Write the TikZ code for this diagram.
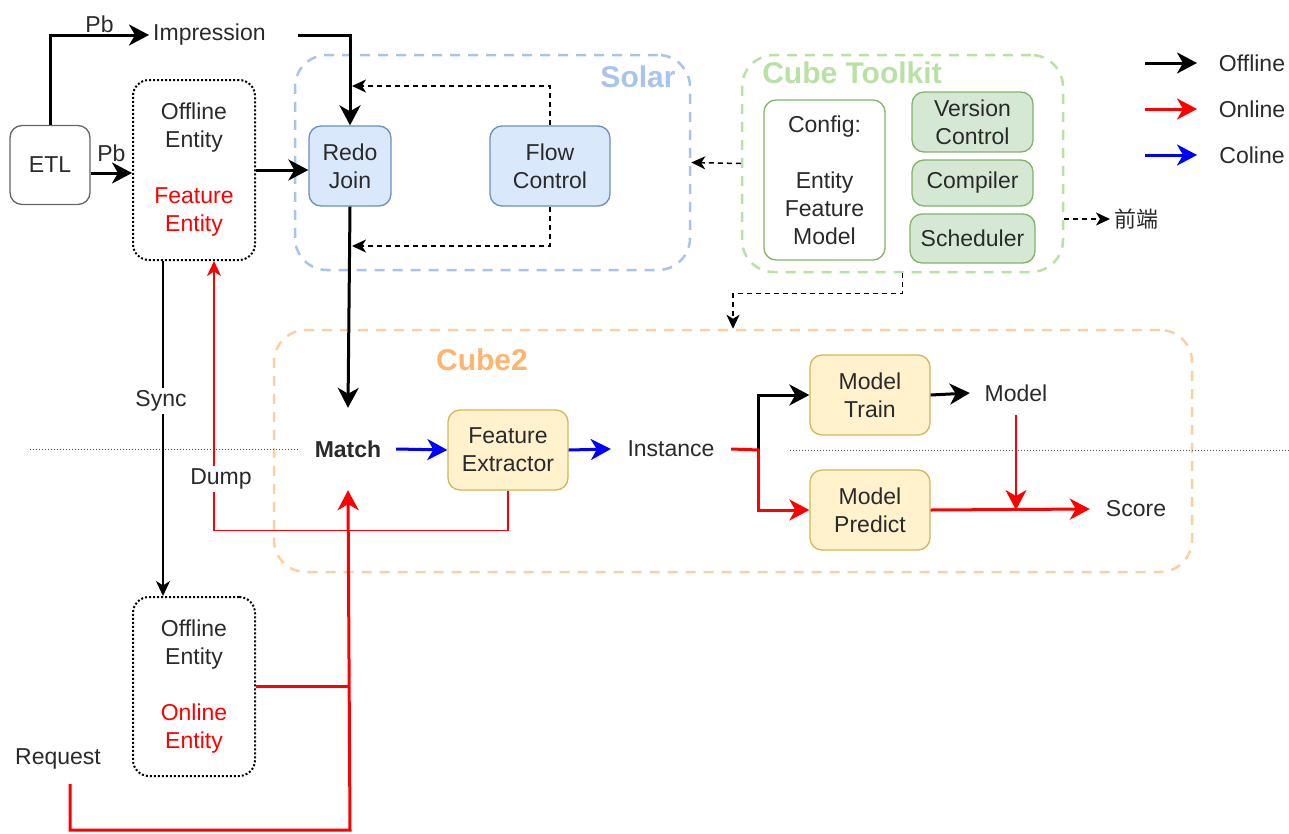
\documentclass[tikz,border=0pt]{standalone}
\usepackage{fontspec}
\setmainfont{Liberation Sans}
\newfontfamily\cjkfont{Noto Sans CJK SC}
\usetikzlibrary{arrows.meta,calc}

\definecolor{txt}{HTML}{2A2A2A}
\definecolor{bfill}{HTML}{DAE8FC}
\definecolor{bline}{HTML}{6C8EBF}
\definecolor{gfill}{HTML}{D5E8D4}
\definecolor{gline}{HTML}{82B366}
\definecolor{yfill}{HTML}{FFF2CC}
\definecolor{yline}{HTML}{D6B656}
\definecolor{solarc}{HTML}{A9C4EB}
\definecolor{toolc}{HTML}{B9E0A5}
\definecolor{cubec}{HTML}{FFCE9F}
\definecolor{cubet}{HTML}{FFB570}
\definecolor{onred}{HTML}{FF0000}
\definecolor{coblue}{HTML}{0000FF}
\definecolor{greyline}{HTML}{666666}

\begin{document}
\begin{tikzpicture}[x=1pt,y=-1pt,
  font=\fontsize{23}{28}\selectfont, text=txt,
  box/.style={rounded corners=12pt, align=center, inner sep=0pt, line width=1.3pt},
  bluebox/.style={box, fill=bfill, draw=bline, minimum height=80},
  greenbox/.style={box, fill=gfill, draw=gline},
  yellowbox/.style={box, fill=yfill, draw=yline, minimum width=120, minimum height=80},
  dotbox/.style={box, draw=black, line width=2pt, dash pattern=on 2pt off 2pt,
    rounded corners=16pt, minimum width=122, minimum height=180},
  group/.style={rounded corners=32pt, line width=2.5pt, dash pattern=on 10pt off 8pt},
  grouptitle/.style={font=\fontsize{30}{34}\selectfont\bfseries},
  lbl/.style={inner sep=2pt, align=center},
  bigtip/.style={-{Stealth[length=20pt,width=21pt,inset=6pt]}},
  smalltip/.style={-{Stealth[length=15pt,width=14pt,inset=4.5pt]}},
  offline/.style={draw=black, line width=3pt, bigtip},
  online/.style={draw=onred, line width=3pt, bigtip},
  coline/.style={draw=coblue, line width=3pt, bigtip},
  ctrl/.style={draw=black, line width=1.5pt, dash pattern=on 5pt off 4pt,
    -{Stealth[length=14pt,width=13pt,inset=4pt]}},
]
\useasboundingbox (0,0) rectangle (1289,833);

% ---------- group frames ----------
\node[group, draw=solarc, minimum width=395, minimum height=215] (solar) at (492.5,162.5) {};
\node[grouptitle, text=solarc] (solart) at (638,77) {Solar};
\node[group, draw=toolc, minimum width=321, minimum height=217] (ctk) at (902.5,163.5) {};
\node[grouptitle, text=toolc] (ctkt) at (852,73) {Cube Toolkit};
\node[group, draw=cubec, minimum width=918, minimum height=242] (cube2) at (733,451) {};
\node[grouptitle, text=cubet] (cube2t) at (482,360) {Cube2};

% ---------- offline / online separator ----------
\coordinate (sepL) at (30,449);
\coordinate (sepR1) at (790,450);
\coordinate (sepR2) at (1289,450);

% ---------- nodes ----------
\node[box, draw=greyline, minimum width=80, minimum height=79] (etl) at (50,165) {ETL};
\node[lbl, anchor=west, inner sep=4pt] (imp) at (149,35) {Impression};
\node[dotbox] (oe1) at (194,170)
  {Offline\\Entity\\[28pt]\textcolor{onred}{Feature}\\\textcolor{onred}{Entity}};
\node[dotbox, minimum height=179] (oe2) at (194,686.5)
  {Offline\\Entity\\[28pt]\textcolor{onred}{Online}\\\textcolor{onred}{Entity}};

\node[bluebox, minimum width=82] (rj) at (350,166) {Redo\\Join};
\node[bluebox, minimum width=120] (fc) at (550,166) {Flow\\Control};

\node[box, fill=white, draw=gline, minimum width=121, minimum height=160] (cfg) at (824.5,180)
  {Config:\\[28pt]Entity\\Feature\\Model};
\node[greenbox, minimum width=121, minimum height=60] (vc) at (972.5,122) {Version\\Control};
\node[greenbox, minimum width=121, minimum height=46] (comp) at (972.5,183) {Compiler};
\node[greenbox, minimum width=125, minimum height=49] (sched) at (972.5,238.5) {Scheduler};
\node[lbl, anchor=west, inner sep=4pt, font=\fontsize{22}{26}\cjkfont] (fe2) at (1110,219) {前端};

\node[lbl, font=\fontsize{23}{28}\selectfont\bfseries, minimum width=96, minimum height=82] (match) at (348,449) {Match};
\node[yellowbox] (fe) at (508,450) {Feature\\Extractor};
\node[lbl, minimum width=120] (inst) at (671,449) {Instance};
\node[yellowbox] (mt) at (870,395) {Model\\Train};
\node[yellowbox] (mp) at (870,510) {Model\\Predict};
\node[lbl, minimum width=92, minimum height=44] (model) at (1016,393) {Model};
\node[lbl, minimum width=92] (score) at (1136,509) {Score};
\node[lbl, minimum height=50] (req) at (58,759) {Request};

% legend
\coordinate (lgA1) at (1145,63);  \coordinate (lgA2) at (1197,63);
\coordinate (lgB1) at (1145,109); \coordinate (lgB2) at (1197,109);
\coordinate (lgC1) at (1145,155); \coordinate (lgC2) at (1197,155);
\node[lbl] (lgA) at (1252,63) {Offline};
\node[lbl] (lgB) at (1252,109) {Online};
\node[lbl] (lgC) at (1252,155) {Coline};
\draw[offline] (lgA1) -- (lgA2);
\draw[online] (lgB1) -- (lgB2);
\draw[coline] (lgC1) -- (lgC2);

% ---------- connectors ----------
\draw[dotted, line width=1pt, draw=black!70] (sepL) -- (match.west);
\draw[dotted, line width=1pt, draw=black!70] (sepR1) -- (sepR2);

\draw[offline] (etl.north) |- node[pos=0.75, above, lbl, inner sep=1pt] (pb1) {Pb} (imp.west);
\draw[offline] ([yshift=-8pt]etl.east) -- node[above, lbl, yshift=8pt] (pb2) {Pb} ([yshift=-8pt]etl.east -| oe1.west);
\draw[offline] ([xshift=28pt]imp.east) -| (rj.north);
\draw[offline] (oe1.east) -- (oe1.east -| rj.west);
\draw[offline] (rj.south) -- (match.north);

\coordinate (fcTop) at (350,86);
\coordinate (fcBot) at (350,246);
\draw[ctrl] (fc.north) |- ([xshift=2pt]fcTop);
\draw[ctrl] (fc.south) |- ([xshift=2pt]fcBot);
\draw[ctrl] (ctk.west) -- (solar.east);
\draw[ctrl] (fe2.west -| ctk.east) -- (fe2.west);
\draw[ctrl] (ctk.south) -- ++(0,20) -| (cube2.north);

% Sync and Dump between the entity stores
\draw[draw=black, line width=2pt, smalltip] ([xshift=-31pt]oe1.south) -- ([xshift=-31pt]oe2.north);
\node[lbl, fill=white, inner sep=3pt] (sync) at (161,401) {Sync};
\draw[draw=onred, line width=1.5pt, smalltip] (fe.south) -- ++(0,40) -| ([xshift=20pt]oe1.south);
\node[lbl, fill=white, inner sep=3pt] (dump) at (221,479) {Dump};

% online request path
\coordinate (reqTurn) at (350,830);
\draw[online] ([xshift=12pt]req.south) |- (reqTurn) -- (match.south);
\draw[draw=onred, line width=3pt] (oe2.east) -- (oe2.east -| match.south);

% feature extraction and models
\draw[coline] (match.east) -- (fe.west);
\draw[coline] (fe.east) -- (inst.west);
\coordinate (split) at (758,450);
\draw[offline] (split) |- (mt.west);
\draw[online] (split) |- (mp.west);
\draw[draw=onred, line width=3pt] (inst.east) -- ([xshift=1.5pt]split);
\draw[offline] (mt.east) -- (model.west);
\draw[online] (mp.east) -- (score.west);
\draw[draw=onred, line width=2pt, bigtip] (model.south) -- (model.south |- mp.east);

\end{tikzpicture}
\end{document}
